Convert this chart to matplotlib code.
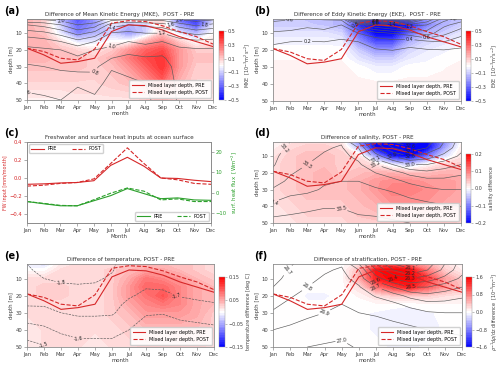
import numpy as np
import matplotlib
matplotlib.use('Agg')
import matplotlib.pyplot as plt

plt.rcParams['font.family'] = 'DejaVu Sans'
plt.rcParams['axes.edgecolor'] = '0.55'
plt.rcParams['xtick.color'] = '0.55'
plt.rcParams['ytick.color'] = '0.55'
plt.rcParams['xtick.labelcolor'] = '0.25'
plt.rcParams['ytick.labelcolor'] = '0.25'
plt.rcParams['axes.linewidth'] = 0.6

month_names = ['Jan', 'Feb', 'Mar', 'Apr', 'May', 'Jun', 'Jul', 'Aug', 'Sep', 'Oct', 'Nov', 'Dec']
months = np.arange(12)
depths = [1.5, 5, 10, 15, 20, 25, 30, 40, 50]

# mixed layer depth [m]
mld_pre = [19, 23, 28, 27, 25, 9, 5, 5.5, 8, 12, 15, 18]
mld_post = [19, 21, 25, 26, 19.5, 4, 2.5, 3, 5.5, 9, 12, 16.5]

# panel (c): freshwater input and surface heat flux
fw_pre = [-0.07, -0.065, -0.055, -0.05, -0.03, 0.14, 0.23, 0.13, 0.0, -0.005, -0.025, -0.04]
fw_post = [-0.09, -0.08, -0.06, -0.05, -0.01, 0.16, 0.335, 0.16, 0.0, -0.02, -0.06, -0.07]
hf_pre = [-4.4, -5.5, -6.5, -6.5, -4.0, -1.5, 2.0, -0.5, -3.0, -2.6, -3.6, -3.8]
hf_post = [-4.4, -5.3, -6.3, -6.5, -3.5, -0.3, 2.3, 0.7, -3.6, -3.1, -4.4, -4.4]

# difference fields, rows = depth, columns = month
mke_diff = [
    [0.15, 0.10, -0.15, -0.35, -0.20, 0.05, 0.00, 0.05, 0.10, -0.30, -0.40, -0.10],
    [0.15, 0.10, -0.10, -0.30, -0.20, -0.05, -0.15, -0.10, 0.05, -0.20, -0.35, -0.05],
    [0.15, 0.12, -0.05, -0.25, -0.15, -0.10, -0.20, -0.10, 0.10, -0.05, -0.15, 0.00],
    [0.15, 0.15, 0.05, -0.05, -0.05, 0.00, 0.00, 0.15, 0.25, 0.10, 0.00, 0.05],
    [0.15, 0.15, 0.12, 0.08, 0.05, 0.10, 0.20, 0.30, 0.35, 0.20, 0.10, 0.10],
    [0.15, 0.15, 0.12, 0.12, 0.10, 0.15, 0.25, 0.35, 0.40, 0.20, 0.12, 0.12],
    [0.12, 0.12, 0.12, 0.12, 0.10, 0.12, 0.20, 0.30, 0.40, 0.20, 0.10, 0.10],
    [0.08, 0.08, 0.08, 0.08, 0.08, 0.10, 0.12, 0.20, 0.30, 0.15, 0.08, 0.08],
    [0.03, 0.03, 0.03, 0.05, 0.05, 0.05, 0.05, 0.10, 0.15, 0.08, 0.05, 0.05],
]
eke_diff = [
    [-0.12, -0.10, -0.12, -0.12, -0.15, -0.30, -0.40, -0.40, -0.30, -0.20, -0.15, -0.12],
    [-0.10, -0.10, -0.10, -0.12, -0.15, -0.40, -0.60, -0.60, -0.45, -0.25, -0.15, -0.10],
    [-0.05, -0.05, -0.05, -0.05, -0.08, -0.30, -0.55, -0.60, -0.30, -0.15, -0.10, -0.05],
    [-0.02, -0.02, -0.02, -0.02, -0.03, -0.20, -0.35, -0.35, -0.15, -0.08, -0.05, -0.02],
    [0.00, 0.00, 0.00, 0.00, 0.00, -0.10, -0.20, -0.20, -0.08, -0.04, -0.02, 0.00],
    [0.01, 0.01, 0.01, 0.01, 0.01, -0.05, -0.10, -0.10, -0.04, -0.02, 0.00, 0.01],
    [0.02, 0.02, 0.02, 0.02, 0.02, 0.00, -0.03, -0.03, 0.00, 0.00, 0.01, 0.02],
    [0.02, 0.02, 0.02, 0.02, 0.02, 0.02, 0.02, 0.02, 0.02, 0.02, 0.02, 0.02],
    [0.03, 0.03, 0.03, 0.03, 0.03, 0.03, 0.03, 0.03, 0.03, 0.03, 0.03, 0.03],
]
sal_diff = [
    [0.00, 0.02, 0.03, 0.03, 0.02, -0.10, -0.25, -0.30, -0.30, -0.25, -0.10, 0.00],
    [0.01, 0.03, 0.04, 0.04, 0.03, -0.05, -0.20, -0.30, -0.30, -0.22, -0.08, 0.01],
    [0.02, 0.04, 0.05, 0.05, 0.04, 0.02, -0.08, -0.18, -0.20, -0.12, -0.03, 0.02],
    [0.03, 0.04, 0.05, 0.05, 0.04, 0.04, 0.02, -0.02, -0.04, 0.00, 0.03, 0.04],
    [0.03, 0.04, 0.05, 0.06, 0.04, 0.05, 0.06, 0.06, 0.05, 0.05, 0.06, 0.06],
    [0.03, 0.04, 0.05, 0.06, 0.05, 0.06, 0.08, 0.09, 0.09, 0.08, 0.08, 0.07],
    [0.03, 0.04, 0.05, 0.05, 0.05, 0.06, 0.08, 0.10, 0.10, 0.09, 0.08, 0.07],
    [0.02, 0.03, 0.04, 0.04, 0.04, 0.05, 0.06, 0.08, 0.08, 0.08, 0.07, 0.06],
    [0.02, 0.02, 0.03, 0.03, 0.03, 0.04, 0.04, 0.05, 0.05, 0.05, 0.05, 0.04],
]
temp_diff = [
    [-0.01, -0.02, 0.01, 0.02, 0.02, 0.02, 0.03, 0.04, 0.04, 0.04, 0.03, 0.02],
    [0.00, 0.00, 0.02, 0.02, 0.02, 0.03, 0.04, 0.05, 0.05, 0.04, 0.03, 0.02],
    [0.02, 0.02, 0.02, 0.02, 0.02, 0.03, 0.05, 0.08, 0.07, 0.06, 0.04, 0.03],
    [0.02, 0.03, 0.03, 0.02, 0.02, 0.03, 0.06, 0.09, 0.09, 0.07, 0.05, 0.04],
    [0.02, 0.03, 0.03, 0.02, 0.02, 0.03, 0.06, 0.08, 0.10, 0.07, 0.05, 0.04],
    [0.02, 0.02, 0.02, 0.02, 0.02, 0.03, 0.05, 0.07, 0.08, 0.07, 0.05, 0.04],
    [0.02, 0.02, 0.02, 0.02, 0.02, 0.03, 0.04, 0.06, 0.06, 0.06, 0.05, 0.03],
    [0.01, 0.02, 0.02, 0.02, 0.02, 0.02, 0.03, 0.04, 0.04, 0.04, 0.04, 0.03],
    [0.01, 0.02, 0.02, 0.02, 0.01, 0.02, 0.02, 0.03, 0.03, 0.03, 0.03, 0.02],
]
strat_diff = [
    [0.00, 0.00, 0.00, 0.00, 0.00, 0.20, 0.80, 1.00, 0.80, 0.50, 0.20, 0.05],
    [0.00, 0.00, 0.00, 0.00, 0.00, 0.40, 1.50, 1.80, 1.50, 0.80, 0.30, 0.10],
    [0.00, 0.00, 0.00, 0.00, 0.00, 0.50, 1.40, 1.80, 1.80, 1.20, 0.60, 0.30],
    [0.00, 0.00, -0.02, -0.02, 0.00, 0.20, 0.80, 1.20, 1.40, 1.00, 0.60, 0.40],
    [0.00, 0.00, -0.05, -0.05, -0.02, 0.05, 0.20, 0.30, 0.30, 0.30, 0.20, 0.15],
    [0.00, 0.00, -0.03, -0.03, -0.02, 0.00, 0.02, 0.00, -0.02, 0.02, 0.03, 0.03],
    [0.00, 0.00, -0.02, -0.02, -0.02, -0.02, -0.05, -0.08, -0.10, -0.05, -0.02, 0.00],
    [0.00, 0.00, 0.00, -0.02, -0.02, -0.02, -0.05, -0.10, -0.12, -0.08, -0.03, 0.00],
    [0.00, 0.00, 0.00, 0.00, 0.00, 0.00, -0.02, -0.05, -0.05, -0.03, 0.00, 0.00],
]

# background fields for the gray contour lines, rows = month, columns = depth
mke_lines = [
    [2.05, 1.60, 1.30, 1.08, 0.95, 0.85, 0.78, 0.66, 0.55],
    [2.05, 1.67, 1.35, 1.12, 0.97, 0.88, 0.80, 0.68, 0.57],
    [2.10, 1.80, 1.47, 1.20, 1.00, 0.92, 0.83, 0.70, 0.60],
    [2.25, 2.00, 1.67, 1.33, 1.08, 0.97, 0.88, 0.63, 0.50],
    [2.20, 1.90, 1.53, 1.20, 1.00, 0.93, 0.85, 0.70, 0.55],
    [1.90, 1.50, 1.18, 1.07, 0.95, 0.80, 0.63, 0.50, 0.45],
    [1.85, 1.40, 1.15, 1.00, 0.86, 0.75, 0.68, 0.55, 0.50],
    [1.90, 1.45, 1.20, 1.05, 0.90, 0.78, 0.70, 0.60, 0.55],
    [1.90, 1.50, 1.20, 1.00, 0.85, 0.78, 0.74, 0.72, 0.70],
    [2.05, 1.70, 1.35, 1.10, 0.95, 0.88, 0.85, 0.83, 0.82],
    [2.10, 1.85, 1.45, 1.15, 0.97, 0.90, 0.87, 0.85, 0.84],
    [2.05, 1.75, 1.40, 1.12, 0.97, 0.90, 0.87, 0.85, 0.84],
]
eke_lines = [
    [0.65, 0.53, 0.37, 0.22, 0.16, 0.13, 0.10, 0.07, 0.05],
    [0.62, 0.50, 0.35, 0.20, 0.15, 0.12, 0.10, 0.07, 0.05],
    [0.60, 0.45, 0.30, 0.19, 0.14, 0.12, 0.10, 0.07, 0.05],
    [0.62, 0.48, 0.33, 0.20, 0.15, 0.12, 0.10, 0.07, 0.05],
    [0.65, 0.40, 0.27, 0.17, 0.13, 0.11, 0.10, 0.07, 0.05],
    [2.10, 0.90, 0.40, 0.20, 0.15, 0.12, 0.10, 0.07, 0.05],
    [2.60, 1.20, 0.50, 0.30, 0.18, 0.13, 0.10, 0.07, 0.05],
    [2.60, 1.40, 0.60, 0.33, 0.20, 0.14, 0.10, 0.07, 0.05],
    [2.20, 1.30, 0.70, 0.28, 0.16, 0.12, 0.10, 0.07, 0.05],
    [1.60, 1.20, 0.90, 0.35, 0.18, 0.13, 0.10, 0.07, 0.05],
    [1.10, 0.85, 0.65, 0.40, 0.19, 0.14, 0.10, 0.07, 0.05],
    [0.90, 0.70, 0.47, 0.28, 0.17, 0.13, 0.10, 0.07, 0.05],
]
sal_lines = [
    [33.15, 33.16, 33.18, 33.19, 33.22, 33.26, 33.31, 33.43, 33.54],
    [33.20, 33.22, 33.24, 33.27, 33.29, 33.32, 33.37, 33.45, 33.55],
    [33.25, 33.26, 33.28, 33.30, 33.33, 33.35, 33.38, 33.47, 33.56],
    [33.27, 33.29, 33.31, 33.33, 33.36, 33.39, 33.41, 33.49, 33.57],
    [33.29, 33.31, 33.33, 33.35, 33.38, 33.40, 33.43, 33.49, 33.57],
    [33.10, 33.20, 33.27, 33.32, 33.36, 33.40, 33.43, 33.48, 33.52],
    [32.80, 32.90, 33.05, 33.20, 33.30, 33.37, 33.41, 33.47, 33.52],
    [32.60, 32.70, 32.90, 33.10, 33.25, 33.33, 33.39, 33.46, 33.51],
    [32.55, 32.62, 32.80, 33.00, 33.17, 33.28, 33.35, 33.45, 33.50],
    [32.65, 32.70, 32.85, 33.00, 33.13, 33.24, 33.32, 33.43, 33.50],
    [32.80, 32.83, 32.93, 33.05, 33.15, 33.23, 33.30, 33.41, 33.49],
    [32.95, 32.97, 33.02, 33.10, 33.18, 33.25, 33.30, 33.40, 33.48],
]
temp_lines = [
    [-1.80, -1.79, -1.77, -1.75, -1.73, -1.71, -1.66, -1.56, -1.46],
    [-1.83, -1.82, -1.80, -1.77, -1.74, -1.71, -1.67, -1.58, -1.49],
    [-1.84, -1.83, -1.81, -1.79, -1.76, -1.73, -1.70, -1.62, -1.53],
    [-1.85, -1.83, -1.81, -1.795, -1.77, -1.74, -1.715, -1.64, -1.56],
    [-1.84, -1.83, -1.81, -1.79, -1.76, -1.74, -1.715, -1.64, -1.56],
    [-1.81, -1.805, -1.79, -1.77, -1.75, -1.73, -1.71, -1.64, -1.56],
    [-1.76, -1.76, -1.75, -1.73, -1.71, -1.68, -1.66, -1.60, -1.53],
    [-1.75, -1.75, -1.73, -1.705, -1.68, -1.65, -1.61, -1.55, -1.50],
    [-1.76, -1.76, -1.74, -1.71, -1.68, -1.65, -1.605, -1.55, -1.51],
    [-1.77, -1.77, -1.75, -1.73, -1.705, -1.67, -1.63, -1.56, -1.52],
    [-1.78, -1.77, -1.76, -1.74, -1.71, -1.69, -1.64, -1.57, -1.52],
    [-1.79, -1.78, -1.77, -1.75, -1.72, -1.695, -1.65, -1.58, -1.52],
]
sigma_lines = [
    [26.64, 26.65, 26.67, 26.70, 26.74, 26.78, 26.81, 26.90, 26.99],
    [26.69, 26.71, 26.73, 26.76, 26.79, 26.82, 26.85, 26.92, 26.99],
    [26.74, 26.75, 26.78, 26.80, 26.83, 26.85, 26.88, 26.94, 27.00],
    [26.77, 26.79, 26.81, 26.83, 26.86, 26.88, 26.90, 26.96, 27.01],
    [26.79, 26.81, 26.83, 26.85, 26.87, 26.90, 26.92, 26.97, 27.02],
    [26.60, 26.70, 26.76, 26.81, 26.85, 26.88, 26.90, 26.95, 26.99],
    [26.30, 26.40, 26.55, 26.70, 26.79, 26.85, 26.89, 26.94, 26.98],
    [26.10, 26.20, 26.40, 26.60, 26.74, 26.82, 26.87, 26.93, 26.97],
    [26.05, 26.12, 26.30, 26.50, 26.67, 26.77, 26.84, 26.92, 26.97],
    [26.15, 26.20, 26.35, 26.50, 26.63, 26.73, 26.81, 26.90, 26.96],
    [26.30, 26.33, 26.43, 26.55, 26.65, 26.73, 26.80, 26.89, 26.95],
    [26.45, 26.47, 26.52, 26.60, 26.68, 26.75, 26.80, 26.88, 26.94],
]

W, H = 500, 367
fig = plt.figure(figsize=(W / 100, H / 100), dpi=100)

FS_TITLE = 4.1
FS_TICK = 3.8
FS_LABEL = 3.9
FS_LEG = 3.5


def box(x0, x1, y0, y1):
    # pixel box (top-left origin) -> figure fraction
    return [x0 / W, 1 - y1 / H, (x1 - x0) / W, (y1 - y0) / H]


def month_axis(ax, xlabel='month'):
    ax.set_xlim(0, 11)
    ax.set_xticks(months)
    ax.set_xticklabels(month_names)
    ax.set_xlabel(xlabel, fontsize=FS_LABEL, labelpad=1, color='0.25')
    ax.tick_params(labelsize=FS_TICK, length=2, width=0.5, pad=1.5)


def field_panel(pos, cpos, fill, vmax, cticks, clabel, lines, levels, title):
    ax = fig.add_axes(box(*pos))
    fill = np.clip(np.array(fill), -vmax, vmax)
    # odd number of bins so that zero sits in the middle of a white bin
    cf = ax.contourf(months, depths, fill, levels=np.linspace(-vmax, vmax, 42), cmap='bwr')
    cs = ax.contour(months, depths, np.array(lines).T, levels=levels,
                    colors='0.35', linewidths=0.45)
    ax.clabel(cs, fmt='%.1f', fontsize=3.5, inline=True, inline_spacing=1, colors='0.15')
    ax.plot(months, mld_pre, color='tab:red', lw=0.8, label='Mixed layer depth, PRE')
    ax.plot(months, mld_post, '--', color='tab:red', lw=0.8, label='Mixed layer depth, POST')
    ax.set_ylim(50, 1.5)
    ax.set_yticks([10, 20, 30, 40, 50])
    ax.set_ylabel('depth [m]', fontsize=FS_LABEL, labelpad=1, color='0.25')
    month_axis(ax)
    ax.set_title(title, fontsize=FS_TITLE, pad=2.5, color='0.2')
    ax.legend(loc='lower right', fontsize=FS_LEG, handlelength=2.6, borderpad=0.5,
              labelspacing=0.5, framealpha=0.9, edgecolor='0.8')
    cax = fig.add_axes(box(*cpos))
    cb = fig.colorbar(cf, cax=cax, ticks=cticks)
    cb.outline.set_linewidth(0.3)
    cb.ax.tick_params(labelsize=FS_LEG, length=1.5, width=0.4, pad=1)
    cb.set_label(clabel, fontsize=FS_LEG, labelpad=2, color='0.25')
    return ax


field_panel((27, 213, 19, 100), (219, 224, 31, 100), mke_diff, 0.5,
            [-0.5, -0.3, -0.1, 0.1, 0.3, 0.5], 'MKE  [10$^{-3}$m$^2$s$^{-2}$]',
            mke_lines, np.round(np.arange(0.6, 2.05, 0.2), 1),
            'Difference of Mean Kinetic Energy (MKE),  POST - PRE')
field_panel((273, 461, 19, 101), (466, 471, 31, 101), eke_diff, 0.5,
            [-0.5, -0.3, -0.1, 0.1, 0.3, 0.5], 'EKE  [10$^{-3}$m$^2$s$^{-2}$]',
            eke_lines, np.round(np.arange(0.2, 2.65, 0.2), 1),
            'Difference of Eddy Kinetic Energy (EKE),  POST - PRE')
field_panel((273, 461, 142, 223), (466, 471, 154, 223), sal_diff, 0.2,
            [-0.2, -0.1, 0.0, 0.1, 0.2], 'salinity difference',
            sal_lines, np.round(np.arange(32.6, 33.55, 0.1), 1),
            'Difference of salinity, POST - PRE')
field_panel((27, 214, 264, 347), (219, 225, 277, 347), temp_diff, 0.15,
            [-0.15, -0.05, 0.05, 0.15], 'temperature difference [deg C]',
            temp_lines, np.round(np.arange(-1.8, -1.45, 0.1), 1),
            'Difference of temperature, POST - PRE')
field_panel((273, 462, 264, 347), (466, 472, 277, 347), strat_diff, 1.6,
            [-1.6, -0.8, 0.0, 0.8, 1.6], r'$\rho^{-1}$d$\rho$/dz difference  [10$^{-5}$m$^{-1}$]',
            sigma_lines, np.round(np.arange(26.1, 27.05, 0.1), 1),
            'Difference of stratification, POST - PRE')

# panel (c)
axc = fig.add_axes(box(27, 211, 142, 223))
axc.plot(months, fw_pre, color='tab:red', lw=0.8, label='PRE')
axc.plot(months, fw_post, '--', color='tab:red', lw=0.8, label='POST')
axc.set_ylim(-0.5, 0.4)
axc.set_yticks([-0.4, -0.2, 0.0, 0.2, 0.4])
month_axis(axc, 'Month')
axc.tick_params(axis='y', labelcolor='tab:red')
axc.set_ylabel('FW input [mm/month]', fontsize=FS_LEG, color='tab:red', labelpad=1)
axc.set_title('Freshwater and surface heat inputs at ocean surface', fontsize=FS_TITLE,
              pad=2.5, color='0.2')
axc.legend(loc='upper left', ncol=2, fontsize=FS_LEG, handlelength=2.6, columnspacing=3,
           framealpha=0.9, edgecolor='0.8')
axh = axc.twinx()
axh.plot(months, hf_pre, color='tab:green', lw=0.8, label='PRE')
axh.plot(months, hf_post, '--', color='tab:green', lw=0.8, label='POST')
axh.set_ylim(-15, 25)
axh.set_yticks([-10, 0, 10, 20])
axh.tick_params(axis='y', labelsize=FS_TICK, length=2, width=0.5, pad=1.5, labelcolor='tab:green')
axh.set_ylabel('surf. heat flux  [Wm$^{-2}$]', fontsize=FS_LABEL, color='tab:green', labelpad=2)
axh.legend(loc='lower right', ncol=2, fontsize=FS_LEG, handlelength=2.6, columnspacing=3,
           framealpha=0.9, edgecolor='0.8')

for lab, x, y in [('(a)', 4, 11), ('(b)', 254, 11), ('(c)', 4, 133), ('(d)', 254, 133),
                  ('(e)', 4, 256), ('(f)', 254, 256)]:
    fig.text(x / W, 1 - y / H, lab, fontsize=7, fontweight='bold', va='center')

fig.savefig('out.png', dpi=100)
